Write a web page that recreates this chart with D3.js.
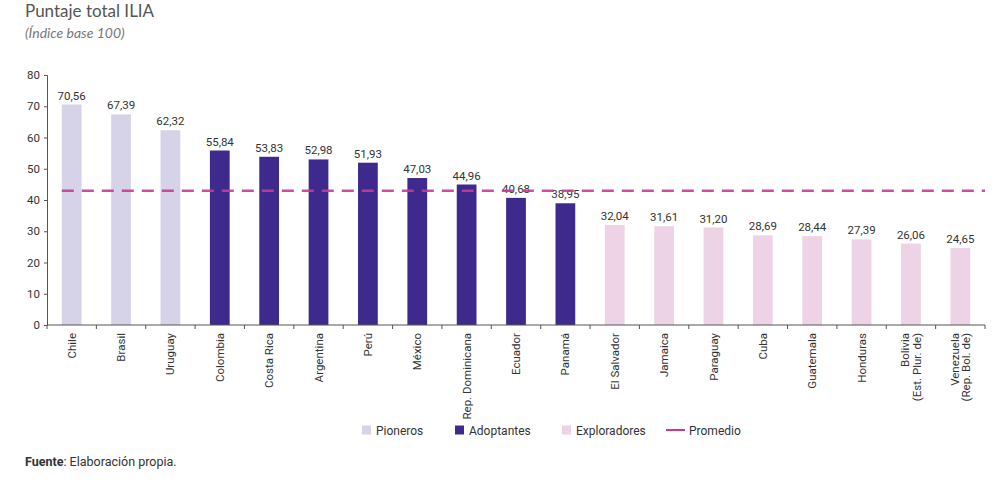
<!DOCTYPE html>
<html lang="es">
  <head>
    <meta charset="utf-8">
    <title>Puntaje total ILIA</title>
    <style>
      body, html { margin:0; padding:0; background:#fff; }
      svg text { font-family: "Liberation Sans Narrow", "Roboto", sans-serif; fill:#333; }
      .title { font-family: "Lato", "Open Sans", sans-serif !important; font-size:17px; fill:#555 !important; }
      .subtitle { font-family: "Lato", "Open Sans", sans-serif !important; font-size:14px; font-style:italic; fill:#777 !important; }
      .axis path, .axis line { stroke:#555; }
      .axis text { font-size:11px; fill:#333; }
    </style>
    <script src="https://cdn.jsdelivr.net/npm/d3@7"></script>
  </head>
  <body>
    <div id="chart"></div>
<script>
// data
var countries = ['Chile', 'Brasil', 'Uruguay', 'Colombia', 'Costa Rica', 'Argentina', 'Perú', 'México',
  'Rep. Dominicana', 'Ecuador', 'Panamá', 'El Salvador', 'Jamaica', 'Paraguay', 'Cuba', 'Guatemala',
  'Honduras', 'Bolivia\n(Est. Plur. de)', 'Venezuela\n(Rep. Bol. de)'];
var scores = [70.56, 67.39, 62.32, 55.84, 53.83, 52.98, 51.93, 47.03, 44.96, 40.68, 38.95,
  32.04, 31.61, 31.20, 28.69, 28.44, 27.39, 26.06, 24.65];
var groups = ['Pioneros', 'Pioneros', 'Pioneros', 'Adoptantes', 'Adoptantes', 'Adoptantes', 'Adoptantes',
  'Adoptantes', 'Adoptantes', 'Adoptantes', 'Adoptantes', 'Exploradores', 'Exploradores', 'Exploradores',
  'Exploradores', 'Exploradores', 'Exploradores', 'Exploradores', 'Exploradores'];
var groupNames = ['Pioneros', 'Adoptantes', 'Exploradores'];
var promedio = 42.98;
var yTicks = [0, 10, 20, 30, 40, 50, 60, 70, 80];

var colors = { 'Pioneros': '#d6d3e8', 'Adoptantes': '#3e2a8d', 'Exploradores': '#eed3e6' };
var avgColor = '#c93b93';

var W = 1000, H = 481;
var svg = d3.select('#chart').append('svg').attr('width', W).attr('height', H);

// es-ES style numbers (comma decimal)
var fmt = d3.formatLocale({ decimal: ',', thousands: '.', grouping: [3], currency: ['', ''] }).format('.2f');

var x = d3.scaleBand().domain(countries).range([47, 985]).paddingInner(0.6).paddingOuter(0.3);
var y = d3.scaleLinear().domain([0, 80]).range([325, 75]);

svg.append('text').attr('class', 'title').attr('x', 25).attr('y', 17).text('Puntaje total ILIA');
svg.append('text').attr('class', 'subtitle').attr('x', 25).attr('y', 38).text('(Índice base 100)');

// bars
var data = countries.map(function(c, i) { return { name: c, value: scores[i], group: groups[i] }; });

svg.selectAll('.bar').data(data).enter().append('rect')
  .attr('class', 'bar')
  .attr('x', function(d) { return x(d.name); })
  .attr('y', function(d) { return y(d.value); })
  .attr('width', x.bandwidth())
  .attr('height', function(d) { return y(0) - y(d.value); })
  .style('fill', function(d) { return colors[d.group]; });

svg.selectAll('.val').data(data).enter().append('text')
  .attr('class', 'val')
  .attr('x', function(d) { return x(d.name) + x.bandwidth() / 2; })
  .attr('y', function(d) { return y(d.value) - 5; })
  .attr('text-anchor', 'middle')
  .style('font-size', '11.5px')
  .text(function(d) { return fmt(d.value); });

// average line (over the bars)
svg.append('line')
  .attr('x1', x(countries[0])).attr('x2', 985)
  .attr('y1', y(promedio)).attr('y2', y(promedio))
  .style('stroke', avgColor).style('stroke-width', 2.5)
  .style('stroke-dasharray', '12,8')
  .style('opacity', 0.9);

// y axis
var yAxis = svg.append('g').attr('class', 'axis')
  .attr('transform', 'translate(47,0)')
  .call(d3.axisLeft(y).tickValues(yTicks).tickSize(3).tickPadding(4));
yAxis.selectAll('text').style('font-size', '11.5px');

// x axis, ticks between categories
var step = x.step();
var xb = svg.append('g').attr('class', 'axis').attr('transform', 'translate(0,' + y(0) + ')');
xb.append('line').attr('x1', 47).attr('x2', 985).style('stroke', '#555');
xb.selectAll('.tk').data(d3.range(countries.length + 1)).enter().append('line')
  .attr('x1', function(i) { return 47 + i * (938 / countries.length); })
  .attr('x2', function(i) { return 47 + i * (938 / countries.length); })
  .attr('y1', 0).attr('y2', 4)
  .style('stroke', '#555');

var labels = svg.selectAll('.xl').data(countries).enter().append('text')
  .attr('class', 'xl')
  .attr('transform', function(d) {
    return 'translate(' + (x(d) + x.bandwidth() / 2) + ',' + (y(0) + 8) + ') rotate(-90)';
  })
  .attr('text-anchor', 'end')
  .style('font-size', '11.5px');

labels.each(function(d) {
  var lines = d.split('\n');
  var t = d3.select(this);
  var off = lines.length > 1 ? -0.15 : 0.35;
  lines.forEach(function(l, i) {
    t.append('tspan').attr('x', 0).attr('dy', (i === 0 ? off : 1.0) + 'em').text(l);
  });
});

// legend
var legend = [
  { name: 'Pioneros', x: 362 },
  { name: 'Adoptantes', x: 455 },
  { name: 'Exploradores', x: 562 }
];
var lg = svg.append('g').attr('transform', 'translate(0,430)');
legend.forEach(function(l) {
  lg.append('rect').attr('x', l.x).attr('y', -4.5).attr('width', 9).attr('height', 9)
    .style('fill', colors[l.name]);
  lg.append('text').attr('x', l.x + 14).attr('y', 4.5).style('font-size', '12px').text(l.name);
});
lg.append('line').attr('x1', 666).attr('x2', 685).attr('y1', 0).attr('y2', 0)
  .style('stroke', avgColor).style('stroke-width', 2);
lg.append('text').attr('x', 689).attr('y', 4.5).style('font-size', '12px').text('Promedio');

// source
var src = svg.append('text').attr('x', 25).attr('y', 466).style('font-size', '12.5px');
src.append('tspan').style('font-weight', 'bold').text('Fuente');
src.append('tspan').text(': Elaboración propia.');
</script>
  </body>
</html>
